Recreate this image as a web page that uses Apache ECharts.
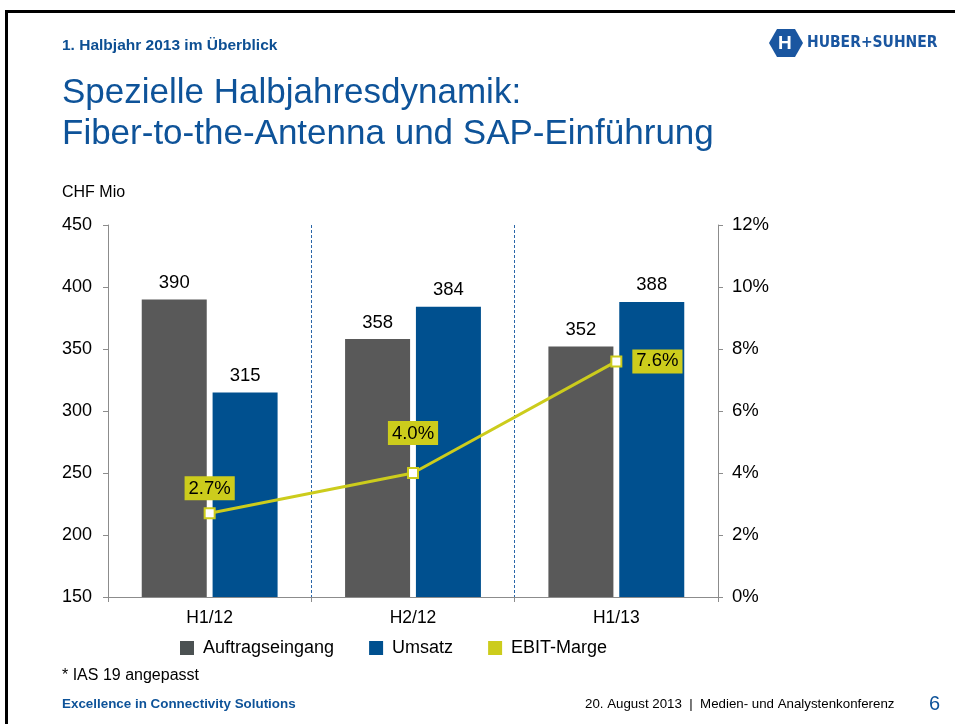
<!DOCTYPE html>
<html>
<head>
<meta charset="utf-8">
<script src="https://cdn.jsdelivr.net/npm/echarts@6/dist/echarts.min.js"></script>
<style>
    html, body { margin: 0; padding: 0; background: #fff; }
    #chart { width: 955px; height: 724px; }
</style>
</head>
<body>
<div id="chart"></div>
<script>
    // Daten
    var categories = ['H1/12', 'H2/12', 'H1/13'];
    var auftragseingang = [390, 358, 352];
    var umsatz = [315, 384, 388];
    var ebitMarge = [2.7, 4.0, 7.6];
    var leftTicks = { min: 150, max: 450, interval: 50 };
    var rightTicks = { min: 0, max: 12, interval: 2 };

    var blue = '#00508f';
    var gray = '#595959';
    var yellow = '#cccc1c';
    var titleBlue = '#0e5399';
    var font = '"Liberation Sans", Arial, sans-serif';

    // Label-Positionen der EBIT-Marge
    var ebitLabels = [
        { position: 'top', distance: 7 },
        { position: 'top', distance: 22 },
        { position: 'right', distance: 10 }
    ];
    var ebitData = [];
    for (var i = 0; i < ebitMarge.length; i++) {
        ebitData.push({ value: ebitMarge[i], label: ebitLabels[i] });
    }

    var myChart = echarts.init(document.getElementById('chart'), null, { renderer: 'canvas' });
    var option = {
        backgroundColor: '#fff',
        animation: false,
        textStyle: { fontFamily: font },
        grid: { left: 108, right: 237, top: 225, bottom: 127 },
        legend: {
            left: 175,
            top: 634,
            itemWidth: 14,
            itemHeight: 14,
            itemGap: 35,
            icon: 'rect',
            textStyle: { fontSize: 18, color: '#000', fontFamily: font, padding: [0, 0, 0, 4] },
            data: [
                { name: 'Auftragseingang', itemStyle: { color: '#4b5152' } },
                { name: 'Umsatz', itemStyle: { color: blue } },
                { name: 'EBIT-Marge', itemStyle: { color: yellow, borderWidth: 0 } }
            ]
        },
        xAxis: [
            {
                type: 'category',
                data: categories,
                axisLine: { lineStyle: { color: '#8c8c8c', width: 1 } },
                axisTick: { show: true, length: 5, lineStyle: { color: '#8c8c8c' } },
                axisLabel: { color: '#000', fontSize: 17.5, margin: 12 },
                splitLine: { show: false }
            },
            {
                // Trennlinien zwischen den Halbjahren
                type: 'value',
                min: 0,
                max: 3,
                interval: 1,
                position: 'bottom',
                axisLine: { show: false },
                axisTick: { show: false },
                axisLabel: { show: false },
                splitLine: {
                    show: true,
                    showMinLine: false,
                    showMaxLine: false,
                    lineStyle: { color: '#2a66a8', type: [3, 2], width: 1 }
                }
            }
        ],
        yAxis: [
            {
                type: 'value',
                min: leftTicks.min,
                max: leftTicks.max,
                interval: leftTicks.interval,
                axisLine: { show: true, lineStyle: { color: '#8c8c8c' } },
                axisTick: { show: true, length: 5, lineStyle: { color: '#8c8c8c' } },
                axisLabel: { color: '#000', fontSize: 18, margin: 16 },
                splitLine: { show: false }
            },
            {
                type: 'value',
                min: rightTicks.min,
                max: rightTicks.max,
                interval: rightTicks.interval,
                position: 'right',
                axisLine: { show: true, lineStyle: { color: '#8c8c8c' } },
                axisTick: { show: true, length: 5, lineStyle: { color: '#8c8c8c' } },
                axisLabel: { color: '#000', fontSize: 18.5, margin: 14, formatter: '{value}%' },
                splitLine: { show: false }
            }
        ],
        series: [
            {
                name: 'Auftragseingang',
                type: 'bar',
                barWidth: 65,
                barGap: '9%',
                itemStyle: { color: gray },
                label: { show: true, position: 'top', distance: 7, color: '#000', fontSize: 18.5 },
                data: auftragseingang
            },
            {
                name: 'Umsatz',
                type: 'bar',
                barWidth: 65,
                barGap: '9%',
                itemStyle: { color: blue },
                label: { show: true, position: 'top', distance: 7, color: '#000', fontSize: 18.5 },
                data: umsatz
            },
            {
                name: 'EBIT-Marge',
                type: 'line',
                yAxisIndex: 1,
                symbol: 'rect',
                symbolSize: 10,
                z: 5,
                lineStyle: { color: yellow, width: 3 },
                itemStyle: { color: '#fff', borderColor: yellow, borderWidth: 2 },
                label: {
                    show: true,
                    color: '#000',
                    fontSize: 18.5,
                    backgroundColor: yellow,
                    padding: [3, 4, 2, 4],
                    formatter: function (p) { return p.value.toFixed(1) + '%'; }
                },
                data: ebitData
            }
        ],
        graphic: [
            // Folienrahmen
            { type: 'rect', left: 5, top: 10, shape: { width: 950, height: 3 }, style: { fill: '#000' } },
            { type: 'rect', left: 5, top: 10, shape: { width: 3, height: 714 }, style: { fill: '#000' } },
            {
                type: 'text', left: 62, top: 38,
                style: { text: '1. Halbjahr 2013 im Überblick', fill: '#0d4f93', font: 'bold 15.5px ' + font }
            },
            {
                type: 'text', left: 62, top: 73,
                style: { text: 'Spezielle Halbjahresdynamik:\nFiber-to-the-Antenna und SAP-Einführung', fill: titleBlue, font: '35px ' + font, lineHeight: 41 }
            },
            // Logo
            {
                type: 'polygon',
                shape: { points: [[777, 29], [795, 29], [803, 43], [795, 57], [777, 57], [769, 43]] },
                style: { fill: '#1a56a0' }
            },
            {
                type: 'text', left: 778, top: 34,
                style: { text: 'H', fill: '#fff', font: 'bold 19px ' + font }
            },
            {
                type: 'text', left: 807, top: 35,
                style: { text: 'HUBER+SUHNER', fill: '#1a56a0', font: 'bold 15.5px "DejaVu Sans Condensed", ' + font }
            },
            {
                type: 'text', left: 62, top: 185,
                style: { text: 'CHF Mio', fill: '#000', font: '16px ' + font }
            },
            {
                type: 'text', left: 62, top: 668,
                style: { text: '* IAS 19 angepasst', fill: '#000', font: '16px ' + font }
            },
            {
                type: 'text', left: 62, top: 698,
                style: { text: 'Excellence in Connectivity Solutions', fill: titleBlue, font: 'bold 13.4px ' + font }
            },
            {
                type: 'text', left: 585, top: 698,
                style: { text: '20. August 2013  |  Medien- und Analystenkonferenz', fill: '#000', font: '13.3px ' + font }
            },
            {
                type: 'text', left: 929, top: 694,
                style: { text: '6', fill: titleBlue, font: '20px ' + font }
            }
        ]
    };
    myChart.setOption(option);
</script>
</body>
</html>
